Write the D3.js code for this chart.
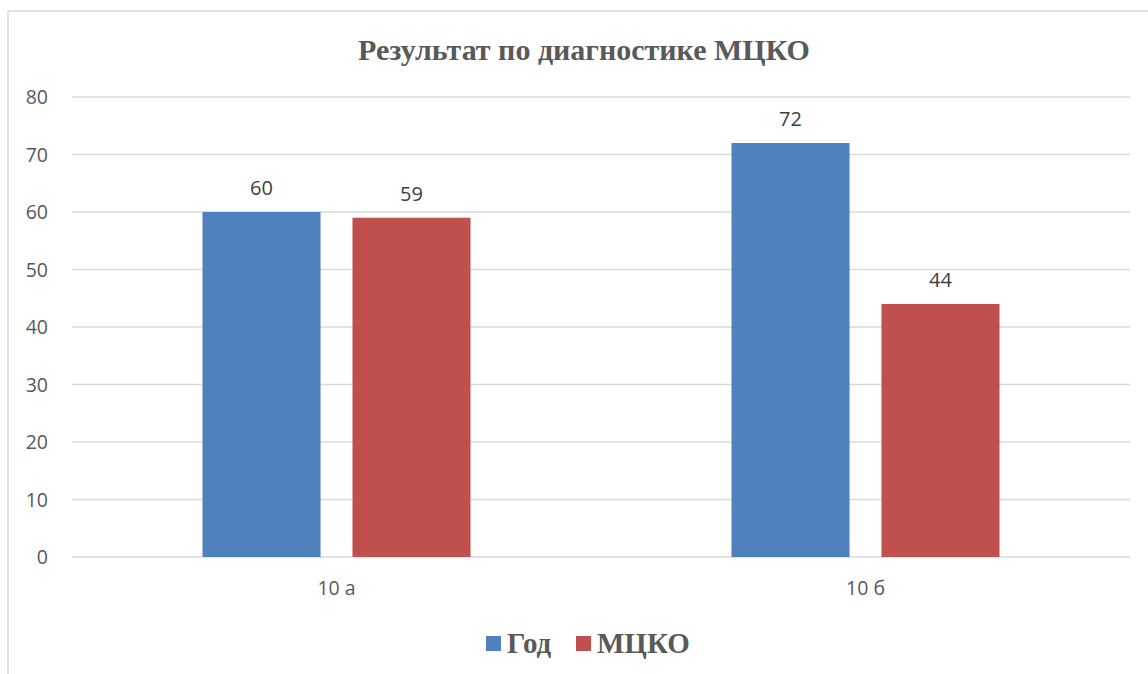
<!DOCTYPE html>
<html>
<head>
<meta charset="utf-8">
<script src="https://cdn.jsdelivr.net/npm/d3@7"></script>
<style>
  html, body { margin: 0; padding: 0; background: #fff; }
  svg { display: block; }
</style>
</head>
<body>
<div id="chart"></div>
<script>
// chart data
const classes = ['10 а', '10 б'];
const seriesNames = ['Год', 'МЦКО'];
const godValues = [60, 72];
const mckoValues = [59, 44];
const yTicks = [0, 10, 20, 30, 40, 50, 60, 70, 80];
const seriesColors = ['#4f81bd', '#c0504d'];

const width = 1148, height = 674;
const margin = { top: 97, right: 18, bottom: 117, left: 72 };

const svg = d3.select('#chart')
    .append('svg')
    .attr('width', width)
    .attr('height', height);

// outer chart frame (left + top edges visible)
svg.append('rect')
    .attr('x', 8)
    .attr('y', 11)
    .attr('width', width + 20)
    .attr('height', height + 20)
    .attr('fill', 'none')
    .attr('stroke', '#d9d9d9')
    .attr('stroke-width', 1.5);

const x0 = d3.scaleBand()
    .domain(classes)
    .range([margin.left, width - margin.right]);

const x1 = d3.scaleBand()
    .domain(seriesNames)
    .range([0, x0.bandwidth()])
    .paddingInner(0.213)
    .paddingOuter(0.87);

const y = d3.scaleLinear()
    .domain([0, 80])
    .range([height - margin.bottom, margin.top]);

// grid lines
svg.append('g')
    .selectAll('line')
    .data(yTicks)
    .join('line')
    .attr('x1', margin.left)
    .attr('x2', width - margin.right)
    .attr('y1', d => y(d))
    .attr('y2', d => y(d))
    .attr('stroke', '#d9d9d9')
    .attr('stroke-width', 1.3);

// y tick labels
svg.append('g')
    .selectAll('text')
    .data(yTicks)
    .join('text')
    .attr('x', 48)
    .attr('y', d => y(d))
    .attr('dy', '0.36em')
    .attr('text-anchor', 'end')
    .attr('font-family', 'Open Sans, Liberation Sans, sans-serif')
    .attr('font-size', 19.5)
    .attr('fill', '#595959')
    .text(d => d);

// x labels
svg.append('g')
    .selectAll('text')
    .data(classes)
    .join('text')
    .attr('x', d => x0(d) + x0.bandwidth() / 2)
    .attr('y', height - margin.bottom + 38)
    .attr('text-anchor', 'middle')
    .attr('font-family', 'Open Sans, Liberation Sans, sans-serif')
    .attr('font-size', 19.5)
    .attr('fill', '#595959')
    .text(d => d);

const rows = classes.map((c, i) => ({
    cls: c,
    values: [
        { name: seriesNames[0], value: godValues[i], color: seriesColors[0] },
        { name: seriesNames[1], value: mckoValues[i], color: seriesColors[1] }
    ]
}));

const groups = svg.append('g')
    .selectAll('g')
    .data(rows)
    .join('g')
    .attr('transform', d => `translate(${x0(d.cls)},0)`);

groups.selectAll('rect')
    .data(d => d.values)
    .join('rect')
    .attr('x', d => x1(d.name))
    .attr('y', d => y(d.value))
    .attr('width', x1.bandwidth())
    .attr('height', d => y(0) - y(d.value))
    .attr('fill', d => d.color);

groups.selectAll('text')
    .data(d => d.values)
    .join('text')
    .attr('x', d => x1(d.name) + x1.bandwidth() / 2)
    .attr('y', d => y(d.value) - 17)
    .attr('text-anchor', 'middle')
    .attr('font-family', 'Open Sans, Liberation Sans, sans-serif')
    .attr('font-size', 20)
    .attr('fill', '#404040')
    .text(d => d.value);

// title
svg.append('text')
    .attr('x', 584)
    .attr('y', 60)
    .attr('text-anchor', 'middle')
    .attr('font-family', 'Liberation Serif, Times New Roman, serif')
    .attr('font-weight', 'bold')
    .attr('font-size', 30)
    .attr('fill', '#595959')
    .text('Результат по диагностике МЦКО');

// legend
const legendItems = [
    { name: seriesNames[0], color: seriesColors[0], x: 486 },
    { name: seriesNames[1], color: seriesColors[1], x: 576 }
];
const legend = svg.append('g')
    .selectAll('g')
    .data(legendItems)
    .join('g')
    .attr('transform', d => `translate(${d.x},636)`);

legend.append('rect')
    .attr('width', 15)
    .attr('height', 15)
    .attr('fill', d => d.color);

legend.append('text')
    .attr('x', 21)
    .attr('y', 17)
    .attr('font-family', 'Liberation Serif, Times New Roman, serif')
    .attr('font-weight', 'bold')
    .attr('font-size', 29)
    .attr('fill', '#595959')
    .text(d => d.name);
</script>
</body>
</html>
